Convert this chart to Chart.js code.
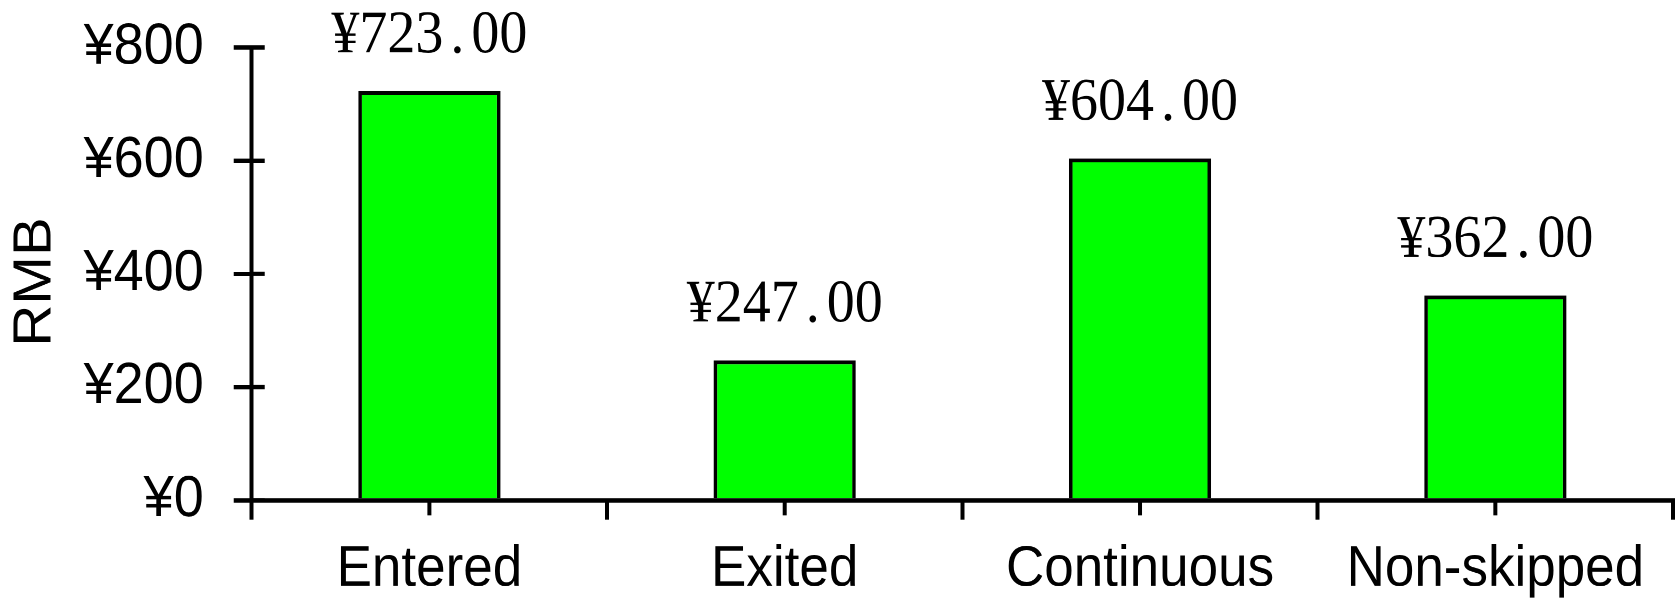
<!DOCTYPE html>
<html>
<head>
<meta charset="utf-8">
<script src="https://cdn.jsdelivr.net/npm/chart.js@4/dist/chart.umd.min.js"></script>
<style>
  html, body { margin: 0; padding: 0; background: #ffffff; }
  #wrap { width: 1678px; height: 604px; overflow: hidden; }
  /* the plot is laid out at 1678x560 and shown slightly taller */
  #c { display: block; transform-origin: 0 0; transform: scaleY(1.0786); }
</style>
</head>
<body>
<div id="wrap"><canvas id="c" width="1678" height="560"></canvas></div>
<script>
// Spend per session type, in RMB
const categories = ['Entered', 'Exited', 'Continuous', 'Non-skipped'];
const amounts = [723, 247, 604, 362];
const yTickValues = [0, 200, 400, 600, 800];
const axisTitle = 'RMB ';

const SANS = '"Liberation Sans", Arial, sans-serif';
const SERIF = '"Liberation Serif", "Times New Roman", serif';
const LABEL_SIZE = 56;
const AXIS_LINE = 4;

// Value captions above the bars, set in fixed-width cells like a CJK font's Latin glyphs
const valueLabels = {
  id: 'valueLabels',
  afterDatasetsDraw(chart) {
    const ctx = chart.ctx;
    const meta = chart.getDatasetMeta(0);
    ctx.save();
    ctx.font = LABEL_SIZE + 'px ' + SERIF;
    ctx.fillStyle = '#000000';
    ctx.textAlign = 'center';
    ctx.textBaseline = 'alphabetic';
    const cell = LABEL_SIZE * 0.5;
    meta.data.forEach((bar, i) => {
      const text = '¥' + amounts[i].toFixed(2);
      const startX = bar.x - cell * text.length / 2;
      for (let k = 0; k < text.length; k++) {
        ctx.fillText(text[k], startX + cell * (k + 0.5), bar.y - 36);
      }
    });
    ctx.restore();
  }
};

// Inner halves of the value-axis ticks and the short ticks under each category
const crossTicks = {
  id: 'crossTicks',
  afterDraw(chart) {
    const ctx = chart.ctx;
    const ys = chart.scales.y, xs = chart.scales.x;
    ctx.save();
    ctx.strokeStyle = '#000000';
    ctx.lineWidth = AXIS_LINE;
    ctx.lineCap = 'butt';
    ctx.beginPath();
    ys.ticks.forEach((t, i) => {
      const py = ys.getPixelForTick(i);
      ctx.moveTo(ys.right, py);
      ctx.lineTo(ys.right + 13, py);
    });
    xs.ticks.forEach((t, i) => {
      const px = xs.getPixelForTick(i);
      ctx.moveTo(px, xs.top);
      ctx.lineTo(px, xs.top + 14);
    });
    ctx.stroke();
    ctx.restore();
  }
};

new Chart(document.getElementById('c'), {
  type: 'bar',
  data: {
    labels: categories,
    datasets: [{
      data: amounts,
      backgroundColor: '#00ff00',
      borderColor: '#000000',
      borderWidth: 3.6,
      categoryPercentage: 1,
      barPercentage: 0.4
    }]
  },
  options: {
    responsive: false,
    animation: false,
    devicePixelRatio: 2,
    layout: { padding: { top: 44, right: 5, bottom: -15, left: 0 } },
    plugins: {
      legend: { display: false },
      tooltip: { enabled: false }
    },
    scales: {
      x: {
        grid: {
          offset: true,
          drawOnChartArea: false,
          drawTicks: true,
          tickLength: 18,
          color: '#000000',
          lineWidth: AXIS_LINE
        },
        border: { display: true, color: '#000000', width: AXIS_LINE },
        ticks: {
          color: '#000000',
          padding: 14.8,
          font: { family: SANS, size: 53, lineHeight: 1.2 },
          maxRotation: 0
        }
      },
      y: {
        min: 0,
        max: 800,
        afterBuildTicks(scale) {
          scale.ticks = yTickValues.map(v => ({ value: v }));
        },
        grid: {
          drawOnChartArea: false,
          drawTicks: true,
          tickLength: 18,
          color: '#000000',
          lineWidth: AXIS_LINE
        },
        border: { display: true, color: '#000000', width: AXIS_LINE },
        ticks: {
          color: '#000000',
          padding: 30,
          font: { family: SANS, size: 54, lineHeight: 0.4 },
          callback: v => '¥' + v
        },
        title: {
          display: true,
          text: axisTitle,
          color: '#000000',
          font: { family: SANS, size: 54, lineHeight: 1.2 },
          padding: { top: 3.1, bottom: -14.3 }
        }
      }
    }
  },
  plugins: [valueLabels, crossTicks]
});
</script>
</body>
</html>
